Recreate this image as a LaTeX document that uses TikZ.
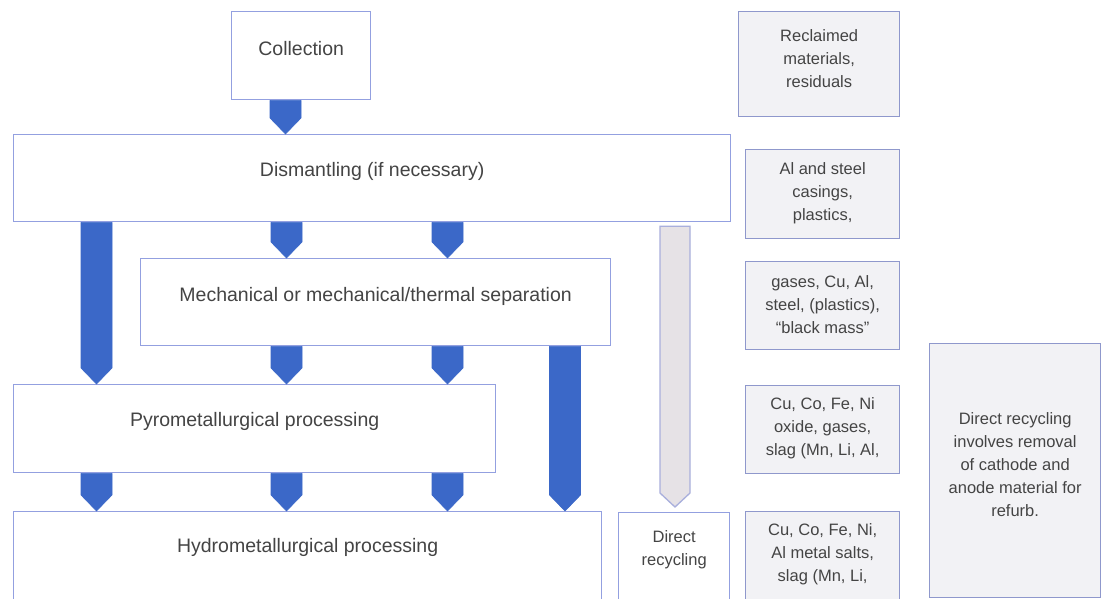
\documentclass[tikz,border=0pt]{standalone}
\usepackage{fontspec}
\setmainfont{Liberation Sans}
\usetikzlibrary{calc}
\definecolor{bord}{HTML}{93A0E0}
\definecolor{sidebord}{HTML}{8F98CC}
\definecolor{sidefill}{HTML}{F2F2F5}
\definecolor{arrowblue}{HTML}{3B68C8}
\definecolor{grayfill}{HTML}{E6E2E6}
\definecolor{grayedge}{HTML}{A9AFDC}
\definecolor{txt}{HTML}{444444}
\newcommand\blockarrow[4]{%
  \draw[#1] ($(#3.south -| #2)+(-15.5,0)$) -- ($(#3.south -| #2)+(15.5,0)$)
    -- ($(#4.north -| #2)+(15.5,-16)$) -- (#4.north -| #2)
    -- ($(#4.north -| #2)+(-15.5,-16)$) -- cycle;}
\begin{document}
\begin{tikzpicture}[x=1pt,y=-1pt,
  box/.style={draw=bord, line width=1.3pt, fill=white, inner sep=0pt, anchor=north west},
  sidebox/.style={draw=sidebord, line width=1.3pt, fill=sidefill, inner sep=0pt, anchor=north west},
  maintxt/.style={text=txt, font=\fontsize{19.5}{24}\selectfont, inner sep=0pt},
  sidetxt/.style={text=txt, font=\fontsize{16.5}{23}\selectfont, align=center, inner sep=0pt},
  blk/.style={fill=arrowblue, draw=arrowblue, line width=0.6pt, line join=round},
  gry/.style={fill=grayfill, draw=grayedge, line width=1.3pt}]
\useasboundingbox (0,0) rectangle (1101,598);
\clip (0,0) rectangle (1101,598);
\fill[white] (0,0) rectangle (1101,598);

% main process boxes
\node[box, minimum width=139, minimum height=88] (coll) at (231,11) {};
\node[box, minimum width=717, minimum height=87] (dism) at (13,134) {};
\node[box, minimum width=470, minimum height=87] (mech) at (140,258) {};
\node[box, minimum width=482, minimum height=88] (pyro) at (13,384) {};
\node[box, minimum width=588, minimum height=100] (hydro) at (13,511) {};
\node[box, minimum width=111, minimum height=100] (drec) at (618,512) {};

\node[maintxt] (coll-t) at ($(coll.center)+(0,-7)$) {Collection};
\node[maintxt] (dism-t) at ($(dism.center)+(0,-7)$) {Dismantling (if necessary)};
\node[maintxt] (mech-t) at ($(mech.center)+(0,-6)$) {Mechanical or mechanical/thermal separation};
\node[maintxt] (pyro-t) at ($(pyro.center)+(0,-7)$) {Pyrometallurgical processing};
\node[maintxt] (hydro-t) at ($(hydro.north)+(0,36)$) {Hydrometallurgical processing};
\node[sidetxt] (drec-t) at ($(drec.north)+(0,38)$) {Direct\\recycling};

% side boxes
\node[sidebox, minimum width=161, minimum height=105] (r1) at (738,11) {};
\node[sidebox, minimum width=154, minimum height=89] (r2) at (745,149) {};
\node[sidebox, minimum width=154, minimum height=88] (r3) at (745,261) {};
\node[sidebox, minimum width=154, minimum height=88] (r4) at (745,385) {};
\node[sidebox, minimum width=154, minimum height=100] (r5) at (745,511) {};
\node[sidebox, minimum width=171, minimum height=254] (r6) at (929,343) {};

\node[sidetxt] (r1-t) at ($(r1.center)+(0,-6)$) {Reclaimed\\materials,\\residuals};
\node[sidetxt] (r2-t) at ($(r2.center)+(0,-1)$) {Al and steel\\casings,\\plastics,};
\node[sidetxt] (r3-t) at ($(r3.center)+(0,-1)$) {gases, Cu, Al,\\steel, (plastics),\\``black mass''};
\node[sidetxt] (r4-t) at ($(r4.center)+(0,-1)$) {Cu, Co, Fe, Ni\\oxide, gases,\\slag (Mn, Li, Al,};
\node[sidetxt] (r5-t) at ($(r5.north)+(0,43)$) {Cu, Co, Fe, Ni,\\Al metal salts,\\slag (Mn, Li,};
\node[sidetxt] (r6-t) at ($(r6.center)+(0,-6)$) {Direct recycling\\involves removal\\of cathode and\\anode material for\\refurb.};

% x positions of the block arrows
\coordinate (xa) at (285.5,0);
\coordinate (xl) at (96.5,0);
\coordinate (xm) at (286.5,0);
\coordinate (xr) at (447.5,0);
\coordinate (xh) at (565,0);
\coordinate (xg) at (675,0);

\blockarrow{blk}{xa}{coll}{dism}
\blockarrow{blk}{xl}{dism}{pyro}
\blockarrow{blk}{xm}{dism}{mech}
\blockarrow{blk}{xr}{dism}{mech}
\blockarrow{blk}{xm}{mech}{pyro}
\blockarrow{blk}{xr}{mech}{pyro}
\blockarrow{blk}{xh}{mech}{hydro}
\blockarrow{blk}{xl}{pyro}{hydro}
\blockarrow{blk}{xm}{pyro}{hydro}
\blockarrow{blk}{xr}{pyro}{hydro}

% grey arrow to direct recycling
\draw[gry] ($(dism.south -| xg)+(-15,4)$) -- ($(dism.south -| xg)+(15,4)$)
  -- ($(drec.north -| xg)+(15,-19)$) -- ($(drec.north -| xg)+(0,-5)$)
  -- ($(drec.north -| xg)+(-15,-19)$) -- cycle;
\end{tikzpicture}
\end{document}
